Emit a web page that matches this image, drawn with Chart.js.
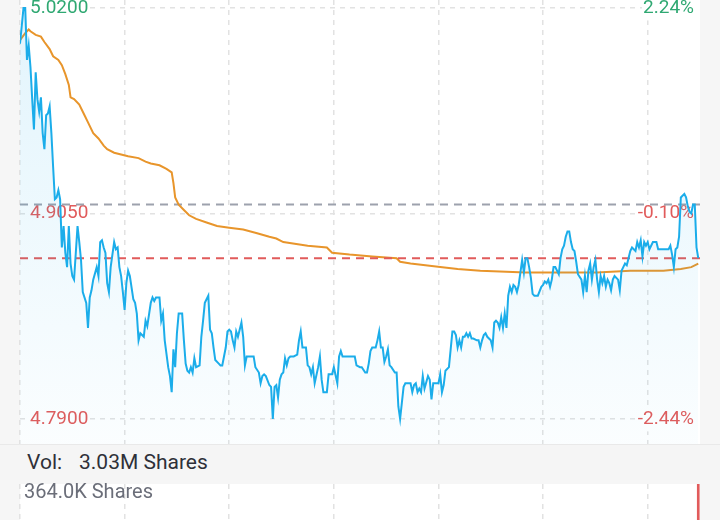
<!DOCTYPE html>
<html>
<head>
<meta charset="utf-8">
<script src="https://cdn.jsdelivr.net/npm/chart.js@4.4.1/dist/chart.umd.min.js"></script>
<style>
html,body{margin:0;padding:0;width:720px;height:520px;overflow:hidden;background:#f6f6f6;font-family:Roboto,sans-serif;}
#mainWrap{position:absolute;left:0;top:0;width:720px;height:444px;}
#band{position:absolute;left:0;top:444px;width:720px;height:36px;background:#f5f5f5;border-top:1px solid #e9e9e9;box-sizing:border-box;font-size:21px;color:#2e3038;}
#band span{position:absolute;top:0;line-height:35px;}
#volWrap{position:absolute;left:0;top:480px;width:720px;height:140px;}
</style>
</head>
<body>
<div id="mainWrap"><canvas id="main"></canvas></div>
<div id="band"><span id="volLbl" style="left:27px">Vol:</span><span id="volTotal" style="left:79px"></span></div>
<div id="volWrap"><canvas id="vol"></canvas></div>
<script>
// ---- data ----
const prevClose = 4.91;
const lastPrice = 4.88;
const priceTicks = [4.79, 4.905, 5.02];
const timeTicks = [0, 60, 120, 180, 240, 300, 360];
const totalVolume = "3.03M";
const volMax = 364000;
const volMinutes = [389];
const volumes = [364000];

const priceMinutes = [0,2,3,4,5,6,7,8,9,10,11,12,13,14,15,16,17,18,19,20,21,22,23,24,25,26,27,28,29,30,31,32,33,34,35,36,38,39,40,41,42,44,45,46,47,48,49,50,51,52,54,55,56,57,58,59,60,61,62,63,65,66,67,68,69,71,72,73,75,76,77,78,80,81,82,83,85,86,87,88,89,90,91,93,94,95,96,97,98,99,100,101,103,104,105,106,107,108,109,110,111,112,114,115,116,117,118,119,120,121,122,123,124,125,127,128,129,130,132,134,135,137,138,139,140,141,143,144,145,146,147,148,149,150,151,152,153,154,155,157,159,160,161,162,164,165,166,167,168,169,171,172,173,174,176,177,178,179,180,182,183,184,185,187,190,192,193,195,196,198,199,200,201,202,204,205,206,207,208,209,210,211,212,213,215,216,217,218,219,220,221,224,225,226,227,228,229,230,231,232,234,235,236,237,239,240,241,242,243,244,246,247,248,249,250,251,252,253,254,255,256,257,258,259,260,262,263,264,265,266,267,268,270,271,272,273,274,275,276,277,278,279,280,281,282,283,284,285,286,287,288,289,290,291,292,293,294,295,297,299,300,301,302,303,304,305,306,307,309,310,311,312,313,314,315,316,317,318,319,320,322,323,324,325,326,327,328,329,330,331,332,333,334,335,336,337,338,339,340,341,343,344,345,346,347,348,349,350,351,353,354,355,356,357,358,359,360,361,363,364,365,366,368,370,372,373,374,375,376,377,378,379,381,382,383,384,385,386,387,388,389];
const prices = [5.000,5.020,5.020,4.991,4.999,4.987,4.969,4.952,4.984,4.969,4.962,4.970,4.950,4.941,4.960,4.961,4.965,4.950,4.931,4.913,4.914,4.918,4.913,4.886,4.898,4.883,4.875,4.898,4.877,4.870,4.868,4.883,4.898,4.889,4.879,4.861,4.855,4.841,4.858,4.862,4.868,4.875,4.870,4.889,4.890,4.886,4.883,4.866,4.861,4.875,4.889,4.885,4.886,4.875,4.870,4.861,4.851,4.866,4.873,4.870,4.857,4.855,4.849,4.834,4.838,4.836,4.845,4.842,4.855,4.858,4.856,4.858,4.858,4.845,4.849,4.834,4.819,4.814,4.805,4.829,4.819,4.838,4.849,4.849,4.834,4.821,4.817,4.816,4.819,4.816,4.824,4.819,4.820,4.836,4.845,4.855,4.857,4.859,4.840,4.838,4.830,4.823,4.821,4.820,4.820,4.825,4.830,4.839,4.840,4.839,4.834,4.830,4.839,4.836,4.844,4.836,4.820,4.825,4.825,4.825,4.819,4.816,4.810,4.814,4.815,4.814,4.809,4.808,4.790,4.808,4.809,4.802,4.812,4.815,4.816,4.824,4.820,4.824,4.825,4.825,4.826,4.834,4.839,4.830,4.830,4.820,4.819,4.815,4.819,4.810,4.819,4.825,4.812,4.805,4.805,4.815,4.815,4.815,4.819,4.810,4.825,4.828,4.825,4.825,4.825,4.825,4.820,4.819,4.819,4.816,4.816,4.821,4.828,4.830,4.830,4.834,4.839,4.830,4.830,4.822,4.825,4.829,4.820,4.819,4.816,4.816,4.797,4.790,4.799,4.808,4.810,4.810,4.805,4.809,4.810,4.805,4.807,4.805,4.814,4.807,4.814,4.812,4.801,4.810,4.810,4.810,4.815,4.805,4.809,4.817,4.819,4.829,4.839,4.839,4.837,4.830,4.834,4.830,4.836,4.836,4.838,4.836,4.838,4.835,4.835,4.834,4.834,4.830,4.834,4.837,4.838,4.836,4.834,4.830,4.844,4.845,4.844,4.841,4.847,4.841,4.849,4.841,4.859,4.864,4.861,4.865,4.864,4.861,4.865,4.872,4.879,4.872,4.880,4.880,4.875,4.869,4.860,4.859,4.859,4.864,4.865,4.867,4.866,4.868,4.864,4.868,4.875,4.875,4.871,4.880,4.885,4.887,4.892,4.895,4.895,4.889,4.885,4.884,4.878,4.871,4.868,4.861,4.870,4.861,4.873,4.877,4.868,4.875,4.879,4.868,4.861,4.870,4.866,4.870,4.864,4.868,4.866,4.862,4.868,4.870,4.868,4.862,4.873,4.875,4.877,4.876,4.880,4.884,4.886,4.884,4.889,4.886,4.890,4.881,4.889,4.887,4.889,4.885,4.889,4.889,4.889,4.885,4.885,4.885,4.885,4.887,4.882,4.875,4.885,4.886,4.892,4.914,4.916,4.914,4.909,4.906,4.905,4.910,4.910,4.886,4.880];

const avgMinutes = [0,3,5,6,9,12,14,17,19,22,24,26,28,29,31,34,37,39,42,45,48,50,54,58,62,68,72,75,80,84,87,88,89,91,94,97,101,107,113,120,128,136,143,147,151,165,176,179,189,202,216,218,224,241,251,264,290,314,331,350,369,379,385,389];
const avgPrices = [5.002,5.006,5.008,5.007,5.005,5.004,5.001,4.997,4.993,4.991,4.988,4.983,4.977,4.970,4.969,4.966,4.960,4.956,4.950,4.947,4.943,4.941,4.939,4.938,4.937,4.936,4.934,4.933,4.932,4.930,4.928,4.922,4.914,4.910,4.907,4.904,4.902,4.900,4.898,4.897,4.896,4.894,4.892,4.891,4.889,4.887,4.886,4.883,4.882,4.881,4.880,4.878,4.877,4.875,4.874,4.873,4.872,4.872,4.872,4.873,4.873,4.874,4.875,4.877];

// ---- styling ----
const GREEN = '#2fa872', RED = '#e15b5b', BLUE = '#1badea', ORANGE = '#e8952b';
const GRID = '#e2e2e2';
const FONT = 'Roboto';
const yMax = 5.0245, yMin = 4.776;

document.getElementById('volTotal').textContent = totalVolume + ' Shares';

const plotBg = {
  id: 'plotBg',
  beforeDraw(chart) {
    const {ctx, chartArea: a} = chart;
    ctx.save(); ctx.fillStyle = '#ffffff';
    ctx.fillRect(a.left, a.top, a.right - a.left, a.bottom - a.top);
    ctx.restore();
  }
};

const pts = (xs, ys) => xs.map((x, i) => ({x, y: ys[i]}));
const noPad = s => { s.paddingTop = 0; s.paddingBottom = 0; s.paddingLeft = 0; s.paddingRight = 0; };
const zeroW = s => { s.width = 0; noPad(s); };
const zeroH = s => { s.height = 0; noPad(s); };

new Chart(document.getElementById('main'), {
  type: 'line',
  data: {
    datasets: [
      {label: 'Price', data: pts(priceMinutes, prices), borderColor: BLUE, borderWidth: 2,
       pointRadius: 0, tension: 0, fill: 'start', order: 0,
       backgroundColor: (c) => {
         const a = c.chart.chartArea; if (!a) return 'rgba(27,173,234,0.08)';
         const g = c.chart.ctx.createLinearGradient(0, a.top, 0, a.bottom);
         g.addColorStop(0, 'rgba(27,173,234,0.13)');
         g.addColorStop(1, 'rgba(27,173,234,0.02)');
         return g;
       }},
      {label: 'Last', data: pts([0, 390], [lastPrice, lastPrice]), borderColor: RED, borderWidth: 2,
       borderDash: [8, 6], pointRadius: 0, fill: false, order: 1},
      {label: 'Average', data: pts(avgMinutes, avgPrices), borderColor: ORANGE, borderWidth: 2,
       pointRadius: 0, tension: 0, fill: false, order: 2},
      {label: 'Prev close', data: pts([0, 390], [prevClose, prevClose]), borderColor: '#9da2ad', borderWidth: 2,
       borderDash: [8, 6], pointRadius: 0, fill: false, order: 3}
    ]
  },
  options: {
    responsive: true, maintainAspectRatio: false, animation: false, devicePixelRatio: 1,
    layout: {padding: {left: 20, right: 20, top: 0, bottom: 0}},
    plugins: {legend: {display: false}, tooltip: {enabled: false}},
    scales: {
      x: {type: 'linear', min: 0, max: 390, offset: false,
          afterBuildTicks: s => { s.ticks = timeTicks.map(v => ({value: v})); },
          afterFit: zeroH,
          ticks: {display: false},
          grid: {color: GRID, lineWidth: 1.5, drawTicks: false},
          border: {display: false, dash: [5, 5]}},
      y: {type: 'linear', position: 'left', min: yMin, max: yMax,
          afterBuildTicks: s => { s.ticks = priceTicks.map(v => ({value: v})); },
          afterFit: zeroW,
          ticks: {mirror: true, padding: 10, font: {family: FONT, size: 19},
                  color: c => (c.tick && c.tick.value > prevClose) ? GREEN : RED,
                  callback: v => Number(v).toFixed(4),
                  showLabelBackdrop: true, backdropColor: '#ffffff', backdropPadding: 1},
          grid: {color: GRID, lineWidth: 1.5, drawTicks: false},
          border: {display: false, dash: [5, 5]}},
      yr: {type: 'linear', position: 'right', min: yMin, max: yMax,
          afterBuildTicks: s => { s.ticks = priceTicks.map(v => ({value: v})); },
          afterFit: zeroW,
          ticks: {mirror: true, padding: -6, font: {family: FONT, size: 19},
                  color: c => (c.tick && c.tick.value > prevClose) ? GREEN : RED,
                  callback: v => ((v - prevClose) / prevClose * 100).toFixed(2) + '%',
                  showLabelBackdrop: true, backdropColor: '#ffffff', backdropPadding: 1},
          grid: {display: false},
          border: {display: false}}
    }
  },
  plugins: [plotBg]
});

new Chart(document.getElementById('vol'), {
  type: 'bar',
  data: {datasets: [{label: 'Volume', data: pts(volMinutes, volumes), backgroundColor: RED, barThickness: 2}]},
  options: {
    responsive: true, maintainAspectRatio: false, animation: false, devicePixelRatio: 1,
    layout: {padding: {left: 20, right: 20, top: 4, bottom: 0}},
    plugins: {legend: {display: false}, tooltip: {enabled: false}},
    scales: {
      x: {type: 'linear', min: 0, max: 390, offset: false,
          afterBuildTicks: s => { s.ticks = timeTicks.map(v => ({value: v})); },
          afterFit: zeroH,
          ticks: {display: false},
          grid: {color: GRID, lineWidth: 1.5, drawTicks: false, offset: false},
          border: {display: false, dash: [5, 5]}},
      y: {type: 'linear', min: 0, max: volMax,
          afterBuildTicks: s => { s.ticks = [{value: volMax}]; },
          afterFit: zeroW,
          ticks: {mirror: true, padding: 4, labelOffset: 9, font: {family: FONT, size: 20}, color: '#6b6e79',
                  callback: v => (v / 1000).toFixed(1) + 'K Shares'},
          grid: {display: false},
          border: {display: false}}
    }
  },
  plugins: [plotBg]
});
</script>
</body>
</html>
